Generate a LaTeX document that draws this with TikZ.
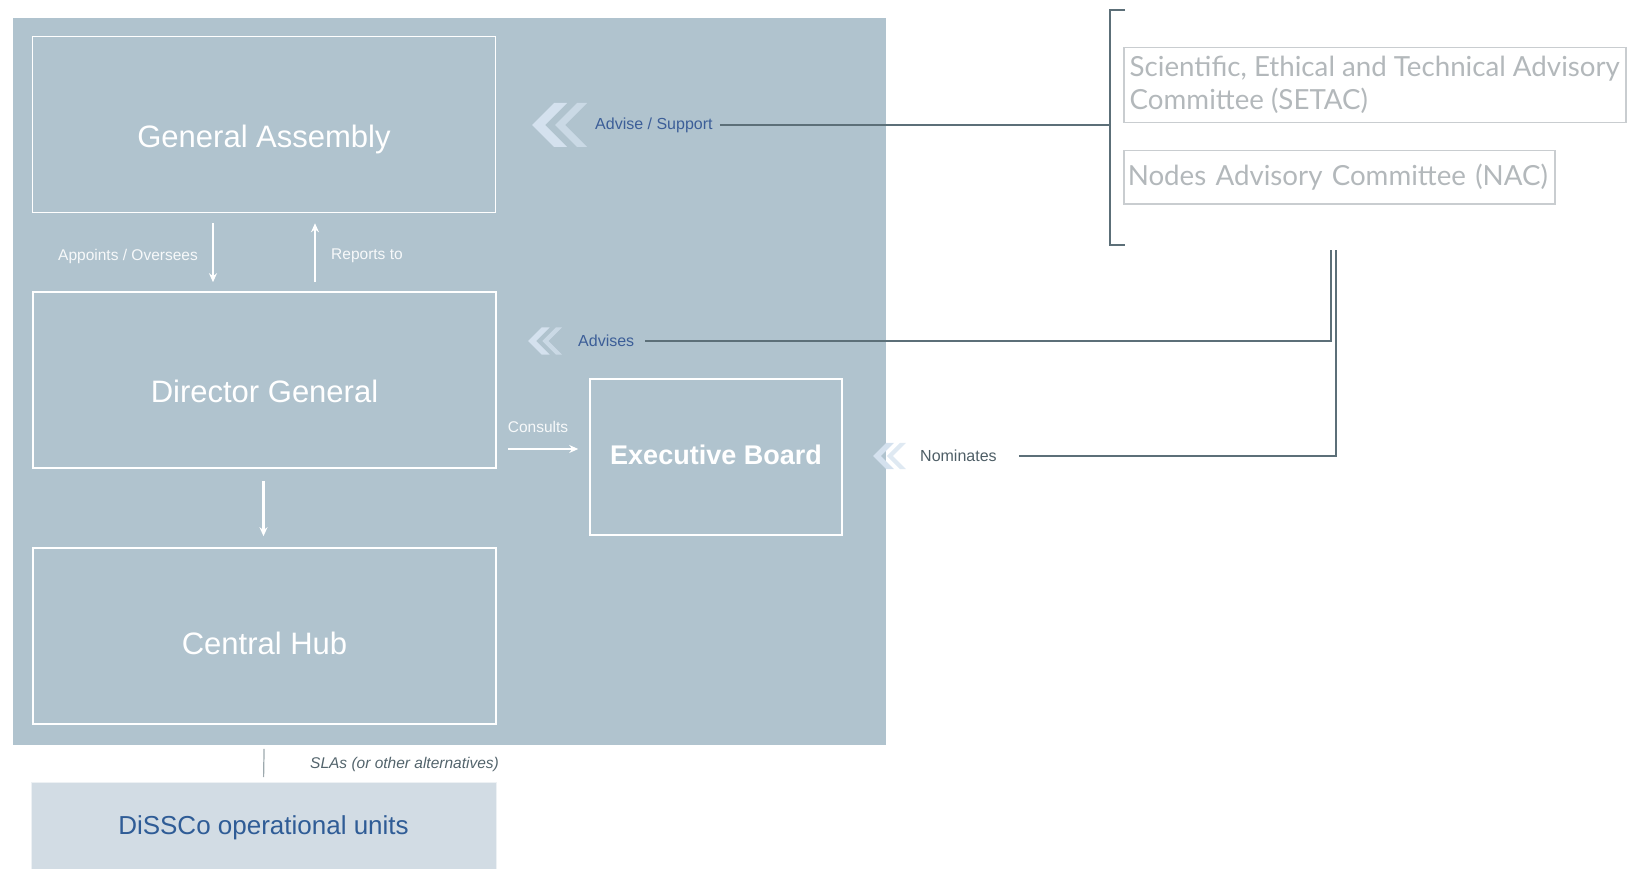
\documentclass[tikz,border=0pt]{standalone}
\usepackage{fontspec}
\setmainfont{Liberation Sans}
\newfontfamily\latofont{Lato}
\usetikzlibrary{arrows.meta}

\definecolor{panel}{HTML}{B0C3CE}
\definecolor{unitfill}{HTML}{D2DCE4}
\definecolor{unittext}{HTML}{2F5C96}
\definecolor{advblue}{HTML}{3C5E98}
\definecolor{linkcol}{HTML}{5C6F78}
\definecolor{chevcol}{HTML}{D4E1EE}
\definecolor{commline}{HTML}{C9CDD0}
\definecolor{commtext}{HTML}{B3B8BB}

\newcommand{\dblchev}[3]{%
  \begin{scope}[shift={(#1,#2)}, scale=#3]
    \fill[chevcol] (0,0) -- (22,-22) -- (35,-22) -- (13,0) -- (35,22) -- (22,22) -- cycle;
    \fill[chevcol, opacity=.75] (23,0) -- (45,-22) -- (55,-22) -- (33,0) -- (55,22) -- (45,22) -- cycle;
  \end{scope}}

\begin{document}
\begin{tikzpicture}[x=1pt, y=-1pt,
  box/.style={draw=white, line width=1.6pt, fill=panel, text=white, text depth=0pt,
    minimum width=463, minimum height=176, font=\fontsize{31}{36}\selectfont},
  flow/.style={draw=white, line width=2.4pt, -{Stealth[length=9pt,width=8pt]}},
  lbl/.style={inner sep=0, text=white!90!panel, font=\fontsize{15.5}{18}\selectfont},
  advlbl/.style={inner sep=0, text=advblue, font=\fontsize{16}{19}\selectfont},
  link/.style={draw=linkcol, line width=2pt},
  comm/.style={draw=commline, line width=1.5pt, text=commtext, inner sep=3pt,
    align=left, anchor=north west, font=\latofont\fontsize{27.7}{33}\selectfont}
  ]
  \useasboundingbox (0,0) rectangle (1629,869);
  \fill[panel] (12.5,18) rectangle (886,745);

  \node[box, text height=47] (ga) at (264,124.5) {General Assembly};
  \node[box, text height=45] (dg) at (264.5,380) {Director General};
  \node[box, text height=37.5] (hub) at (264.5,636) {Central Hub};
  \node[box, minimum width=252, minimum height=156, text height=14,
    font=\bfseries\fontsize{27}{30}\selectfont] (eb) at (716,457) {Executive Board};
  \node[draw=white!60!unitfill, line width=1pt, fill=unitfill, text=unittext, anchor=north,
    minimum width=465, minimum height=90, font=\fontsize{26}{30}\selectfont]
    (units) at (263.5,782) {DiSSCo operational units};

  \draw[flow, shorten <=10, shorten >=9] ([xshift=-51]ga.south) -- ([xshift=-51]ga.south |- dg.north);
  \draw[flow, shorten <=9, shorten >=10] ([xshift=51]ga.south |- dg.north) -- ([xshift=51]ga.south);
  \node[lbl, anchor=east] (appoints) at (198,256) {Appoints / Oversees};
  \node[lbl, anchor=west] (reports) at (331,256) {Reports to};
  \draw[flow, shorten <=12, shorten >=11] ([xshift=-1]dg.south) -- ([xshift=-1]hub.north);
  \draw[flow, shorten <=11, shorten >=11] ([yshift=8]eb.west -| dg.east) -- ([yshift=8]eb.west);
  \node[lbl] (consults) at (538,427) {Consults};
  \draw[draw=linkcol!60, line width=1.2pt, shorten <=24, shorten >=5] (hub.south) -- (units.north);
  \node[lbl, anchor=west, text=linkcol!90!black, font=\itshape\fontsize{15.5}{18}\selectfont]
    (sla) at (310,764) {SLAs (or other alternatives)};

  \node[comm, minimum width=502, minimum height=75] (setac) at (1123,47)
    {Scientific, Ethical and Technical Advisory\\Committee (SETAC)};
  \node[comm, inner xsep=4pt, text width=423, minimum height=53] (nac) at (1123,150)
    {Nodes Advisory Committee (NAC)};
  \coordinate (brtop) at (1110,10);
  \coordinate (brbot) at (1110,245);
  \coordinate (brmid) at (1110,125);
  \coordinate (nacfoota) at (1331,250);
  \coordinate (nacfootb) at (1335.5,250);
  \draw[link, line width=2.2pt] ([xshift=15]brtop) -- (brtop) -- (brbot) -- ([xshift=15]brbot);

  \dblchev{532}{125}{1}
  \node[advlbl, anchor=west] (advise) at (595,125) {Advise / Support};
  \draw[link] ([xshift=7]advise.east) -- (advise.east -| brmid);
  \dblchev{528}{341}{.62}
  \node[advlbl, anchor=west] (advises) at (578,341) {Advises};
  \draw[link] ([xshift=11]advises.east) -- (advises.east -| nacfoota) -- (nacfoota);
  \dblchev{873}{456}{.6}
  \node[advlbl, anchor=west, text=linkcol!85!black] (nominates) at (920,456) {Nominates};
  \draw[link] ([xshift=22]nominates.east) -- (nominates.east -| nacfootb) -- (nacfootb);
\end{tikzpicture}
\end{document}
